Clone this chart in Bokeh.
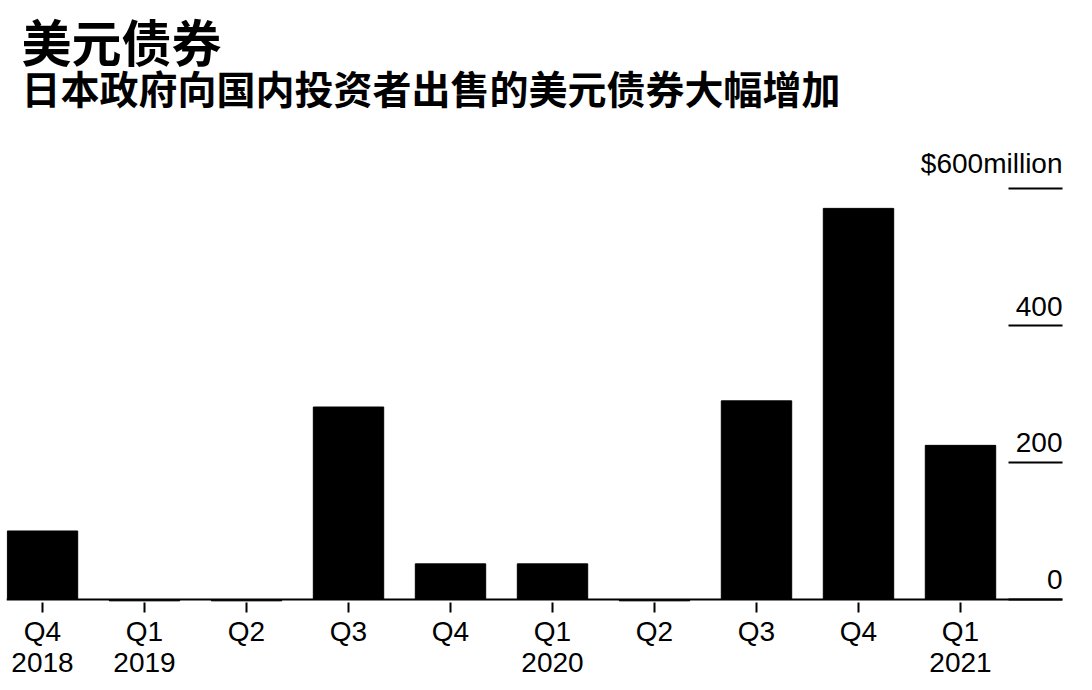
from bokeh.plotting import figure
from bokeh.models import Label, FixedTicker, Span, ColumnDataSource, Range1d
from bokeh.core.properties import value
from bokeh.embed import file_html
from bokeh.resources import INLINE

quarters = ["Q4\n2018", "Q1\n2019", "Q2", "Q3", "Q4", "Q1\n2020", "Q2", "Q3", "Q4", "Q1\n2021"]
amounts = [100, -2, -2, 281, 52, 52, -2, 290, 571, 225]
y_ticks = [0, 200, 400, 600]
y_tick_labels = ["0", "200", "400", "$600million"]
title_text = "美元债券"
subtitle_text = "日本政府向国内投资者出售的美元债券大幅增加"

idx = list(range(len(quarters)))
x_start, x_end = -0.353, 10.0

p = figure(frame_width=1056, frame_height=602, output_backend="svg", toolbar_location=None,
           x_range=Range1d(x_start, x_end), y_range=Range1d(-4.4, 874.5),
           y_axis_location="right", title=None,
           min_border_left=6, min_border_right=30, min_border_top=0, min_border_bottom=0)
p.outline_line_color = None
p.grid.visible = False
p.background_fill_color = "white"
p.border_fill_color = "white"

# titles (screen units, relative to the frame)
p.add_layout(Label(x=15, y=563, x_units="screen", y_units="screen", text=title_text,
                   text_font="Noto Sans CJK SC", text_font_style="bold", text_font_size="50px",
                   text_color="black", text_baseline="middle", text_align="left"))
p.add_layout(Label(x=15, y=516, x_units="screen", y_units="screen", text=subtitle_text,
                   text_font="Noto Sans CJK SC", text_font_style="bold", text_font_size="39px",
                   text_color="black", text_baseline="middle", text_align="left"))

src = ColumnDataSource(dict(x=idx, top=amounts))
p.vbar(x="x", top="top", width=0.69, source=src, color="black")

p.add_layout(Span(location=0, dimension="width", line_color="black", line_width=2))

# x axis
xa = p.xaxis[0]
xa.ticker = FixedTicker(ticks=idx)
xa.major_label_overrides = {i: q for i, q in zip(idx, quarters)}
xa.axis_line_color = None
xa.major_tick_in = 0
xa.major_tick_out = 10
xa.major_tick_line_width = 2
xa.major_tick_line_color = "black"
xa.minor_tick_line_color = None
xa.major_label_text_font = "Liberation Sans"
xa.major_label_text_font_size = "28px"
xa.major_label_text_line_height = 1.0
xa.major_label_text_color = "black"
xa.major_label_standoff = 3

# y axis (right) - ticks drawn inward, labels drawn as text
ya = p.yaxis[0]
ya.ticker = FixedTicker(ticks=y_ticks)
ya.axis_line_color = None
ya.major_tick_in = 54
ya.major_tick_out = 0
ya.major_tick_line_width = 2
ya.major_tick_line_color = "black"
ya.minor_tick_line_color = None
ya.major_label_text_font_size = "1px"
ya.major_label_text_color = None
ya.major_label_standoff = 0

lab = ColumnDataSource(dict(x=[x_end] * len(y_ticks), y=y_ticks, t=y_tick_labels))
p.text(x="x", y="y", text="t", source=lab, text_align="right", text_baseline="bottom",
       y_offset=-10, text_font=value("Liberation Sans"), text_font_size="28px", text_color="black")

open("out.html", "w").write(file_html(p, INLINE))
